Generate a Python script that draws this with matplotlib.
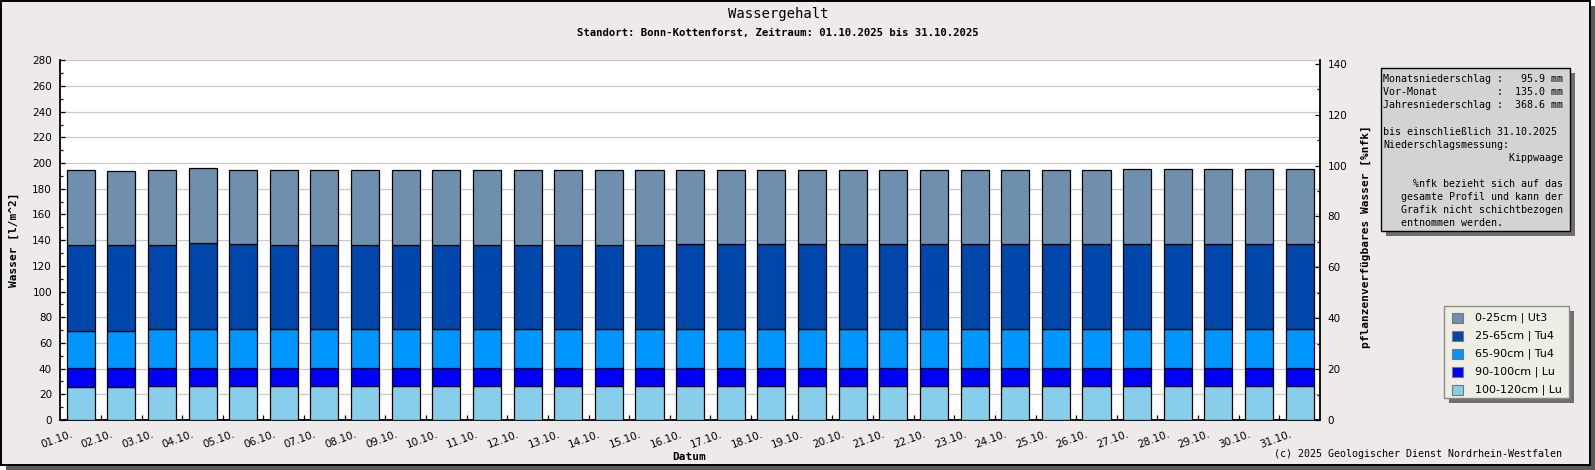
import matplotlib
matplotlib.use("Agg")
import matplotlib.pyplot as plt
from matplotlib.patches import Rectangle
from matplotlib.ticker import MultipleLocator
from matplotlib.transforms import ScaledTranslation
import numpy as np

# ---------------- data ----------------
dates = ["01.10.", "02.10.", "03.10.", "04.10.", "05.10.", "06.10.", "07.10.", "08.10.",
         "09.10.", "10.10.", "11.10.", "12.10.", "13.10.", "14.10.", "15.10.", "16.10.",
         "17.10.", "18.10.", "19.10.", "20.10.", "21.10.", "22.10.", "23.10.", "24.10.",
         "25.10.", "26.10.", "27.10.", "28.10.", "29.10.", "30.10.", "31.10."]

layer_labels = ["0-25cm | Ut3", "25-65cm | Tu4", "65-90cm | Tu4", "90-100cm | Lu", "100-120cm | Lu"]
layer_colors = ["#6F8FAF", "#0047AB", "#0096FF", "#0000FF", "#87CEEB"]

l_100_120 = [25.9, 25.9, 26.6, 26.6, 26.6, 26.6, 26.6, 26.6, 26.6, 26.6, 26.6, 26.6, 26.6, 26.6, 26.6, 26.6,
             26.6, 26.6, 26.6, 26.6, 26.6, 26.6, 26.6, 26.6, 26.6, 26.6, 26.6, 26.6, 26.6, 26.6, 26.6]
l_90_100 = [14.3, 14.3, 13.6, 13.6, 13.6, 13.6, 13.6, 13.6, 13.6, 13.6, 13.6, 13.6, 13.6, 13.6, 13.6, 13.6,
            13.6, 13.6, 13.6, 13.6, 13.6, 13.6, 13.6, 13.6, 13.6, 13.6, 13.6, 13.6, 13.6, 13.6, 13.6]
l_65_90 = [29.3, 29.3, 30.3, 30.3, 30.3, 30.3, 30.3, 30.3, 30.3, 30.3, 30.3, 30.3, 30.3, 30.3, 30.3, 30.3,
           30.3, 30.3, 30.3, 30.3, 30.3, 30.3, 30.3, 30.3, 30.3, 30.3, 30.3, 30.3, 30.3, 30.3, 30.3]
l_25_65 = [66.5, 66.5, 65.5, 67.0, 66.3, 65.5, 65.5, 65.5, 65.5, 65.5, 65.5, 65.5, 65.5, 65.5, 65.5, 66.3,
           66.3, 66.3, 66.3, 66.3, 66.3, 66.3, 66.3, 66.3, 66.3, 66.3, 66.3, 66.3, 66.3, 66.3, 66.3]
l_0_25 = [58.4, 57.6, 58.4, 58.4, 57.5, 58.3, 58.3, 58.3, 58.3, 58.3, 58.3, 58.3, 58.3, 58.3, 58.3, 57.5,
          57.5, 57.5, 57.5, 57.5, 57.5, 57.5, 57.5, 57.5, 57.5, 57.5, 58.3, 58.3, 58.3, 58.3, 58.3]

info_lines = [
    "Monatsniederschlag :   95.9 mm",
    "Vor-Monat          :  135.0 mm",
    "Jahresniederschlag :  368.6 mm",
    "",
    "bis einschließlich 31.10.2025",
    "Niederschlagsmessung:",
    "                     Kippwaage",
    "",
    "     %nfk bezieht sich auf das",
    "   gesamte Profil und kann der",
    "   Grafik nicht schichtbezogen",
    "   entnommen werden.",
]

# ---------------- layout helpers ----------------
W, H = 1595, 470
BG = "#EDEAE9"
MONO = "DejaVu Sans Mono"


def fx(x):
    return x / W


def fy(y):
    return 1 - y / H


def rect_px(x0, y0, x1, y1, **kw):
    return Rectangle((fx(x0), fy(y1)), (x1 - x0) / W, (y1 - y0) / H,
                     transform=fig.transFigure, **kw)


fig = plt.figure(figsize=(W / 100, H / 100), dpi=100, facecolor="white")

# frame with shadow
fig.patches.append(rect_px(6, 6, 1595, 470, facecolor="#5A5A5A", edgecolor="none", zorder=-20))
fig.patches.append(rect_px(1, 1, 1590, 465, facecolor=BG, edgecolor="black", lw=1.4, zorder=-19))

# ---------------- axes ----------------
ax_l, ax_r, ax_t, ax_b = 60.3, 1320, 60.3, 420
ax = fig.add_axes([fx(ax_l), fy(ax_b), (ax_r - ax_l) / W, (ax_b - ax_t) / H])
ax.set_facecolor("white")
ax.set_xlim(-0.5, len(dates) - 0.5)
ax.set_ylim(0, 280)
ax.set_axisbelow(True)
ax.yaxis.grid(True, color="#C8C8C8", lw=0.9)

x = np.arange(len(dates))
layers_bottom_up = [l_100_120, l_90_100, l_65_90, l_25_65, l_0_25]
colors_bottom_up = layer_colors[::-1]
bottom = np.zeros(len(dates))
for vals, col in zip(layers_bottom_up, colors_bottom_up):
    v = np.array(vals)
    ax.bar(x, v, width=0.69, bottom=bottom, color=col, edgecolor="black", linewidth=0.9, zorder=3)
    bottom += v

ax.yaxis.set_major_locator(MultipleLocator(20))
ax.yaxis.set_minor_locator(MultipleLocator(10))
ax.tick_params(axis="y", which="major", direction="in", length=3.8, width=0.9,
               labelsize=7.5, pad=6, colors="black")
ax.tick_params(axis="y", which="minor", direction="in", length=2.4, width=0.9)

ax.set_xticks(x)
ax.set_xticklabels(dates, rotation=20, ha="right", fontsize=7.5)
ax.set_xticks(np.arange(0.5, len(dates) - 0.5, 1), minor=True)
ax.tick_params(axis="x", which="major", length=0, pad=6.5)
ax.tick_params(axis="x", which="minor", direction="in", length=3.6, width=0.9)
off = ScaledTranslation(-0.07, 0, fig.dpi_scale_trans)
for lab in ax.get_xticklabels():
    lab.set_transform(lab.get_transform() + off)

for s in ["top", "right"]:
    ax.spines[s].set_visible(False)
for s in ["left", "bottom"]:
    ax.spines[s].set_linewidth(1.3)

ax2 = ax.twinx()
ax2.set_ylim(0, 141.4)
ax2.yaxis.set_major_locator(MultipleLocator(20))
ax2.yaxis.set_minor_locator(MultipleLocator(10))
ax2.tick_params(axis="y", which="major", direction="in", length=3.8, width=0.9,
                labelsize=7.5, pad=5.3)
ax2.tick_params(axis="y", which="minor", direction="in", length=2.4, width=0.9)
for s in ["top", "left", "bottom"]:
    ax2.spines[s].set_visible(False)
ax2.spines["right"].set_linewidth(1.3)

# ---------------- texts ----------------
fig.text(fx(778), fy(14), "Wassergehalt", family=MONO, size=10, ha="center", va="center")
fig.text(fx(778), fy(33), "Standort: Bonn-Kottenforst, Zeitraum: 01.10.2025 bis 31.10.2025",
         family=MONO, weight="bold", size=7.7, ha="center", va="center")
fig.text(fx(14), fy(240), "Wasser [l/m^2]", family=MONO, weight="bold", size=8,
         rotation=90, ha="center", va="center")
fig.text(fx(1366), fy(237), "pflanzenverfügbares Wasser [%nfk]", family=MONO, weight="bold",
         size=8, rotation=90, ha="center", va="center")
fig.text(fx(689.5), fy(456.7), "Datum", family=MONO, weight="bold", size=8, ha="center", va="center")
fig.text(fx(1562), fy(454.3), "(c) 2025 Geologischer Dienst Nordrhein-Westfalen", family=MONO,
         size=7.2, ha="right", va="center")

# ---------------- info box ----------------
fig.patches.append(rect_px(1386, 73.3, 1575, 236, facecolor="#6E6E6E", edgecolor="none", zorder=5))
fig.patches.append(rect_px(1381, 68.3, 1570, 231, facecolor="#D3D3D3", edgecolor="black", lw=1.0, zorder=6))
for i, line in enumerate(info_lines):
    if line:
        fig.text(fx(1383), fy(79.3 + 13.1 * i), line, family=MONO, size=7.2,
                 ha="left", va="center", zorder=7)

# ---------------- legend ----------------
fig.patches.append(rect_px(1448.5, 310.5, 1573.5, 402.5, facecolor="#6E6E6E", edgecolor="none", zorder=5))
fig.patches.append(rect_px(1444.3, 306, 1569.3, 398.3, facecolor="#EEEEE4", edgecolor="#8A8A8A",
                           lw=1.0, zorder=6))
for i, (lab, col) in enumerate(zip(layer_labels, layer_colors)):
    yc = 317.7 + 18 * i
    fig.patches.append(rect_px(1452.3, yc - 5.2, 1462.7, yc + 5.2, facecolor=col,
                               edgecolor="#777777", lw=0.8, zorder=7))
    fig.text(fx(1475), fy(yc), lab, size=8, ha="left", va="center", zorder=8)

fig.savefig("out.png", dpi=100, facecolor=fig.get_facecolor())
